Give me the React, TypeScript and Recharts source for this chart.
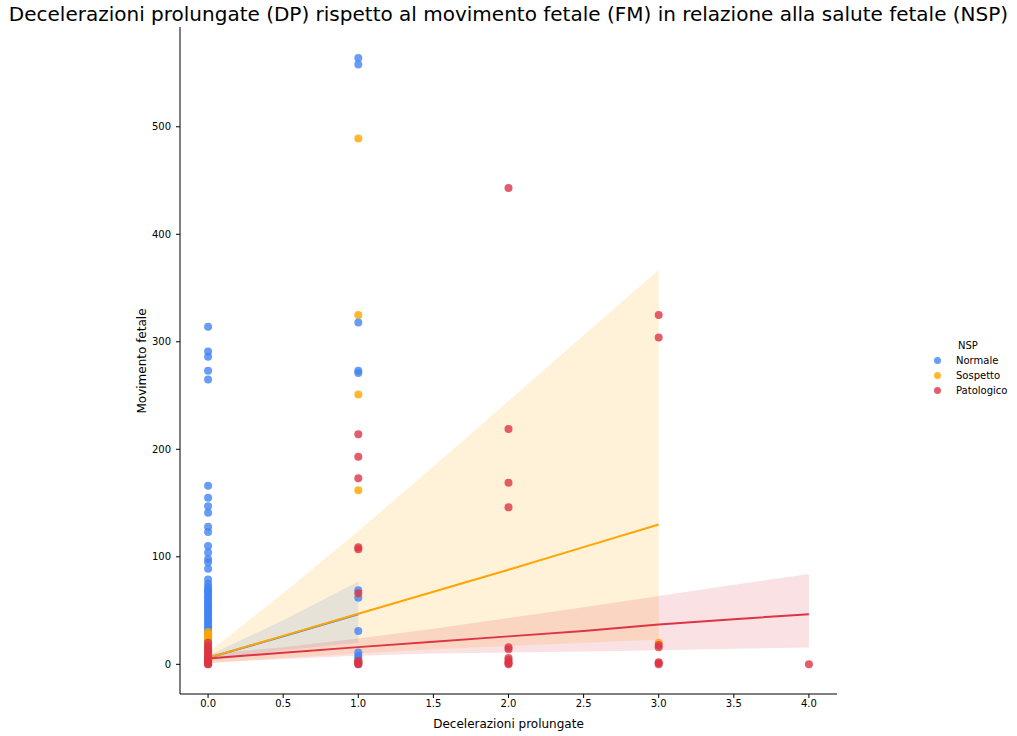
import type { FC } from 'react';
import {
  ComposedChart,
  Scatter,
  Line,
  Area,
  XAxis,
  YAxis,
  Label,
} from 'recharts';

const FONT = '"DejaVu Sans", Verdana, sans-serif';

const COLORS = {
  Normale: '#4285F4',
  Sospetto: '#FFA500',
  Patologico: '#DC3545',
};

const xTicks = [0, 0.5, 1, 1.5, 2, 2.5, 3, 3.5, 4];
const yTicks = [0, 100, 200, 300, 400, 500];

// scatter points: FM values grouped by DP value
const normale0 = [
  314, 291, 286, 273, 265, 166, 155, 147, 141, 128, 123, 110, 104, 98, 95, 89,
  79, 75, 72, 70, 68, 67, 65, 63, 62, 60, 58, 57, 55, 53, 52, 50, 48, 47, 45,
  43, 42, 40, 38, 36, 35, 33, 31, 29, 27, 24, 21, 18, 14, 10, 6, 3, 1, 0,
];
const normale1 = [564, 558, 318, 273, 271, 69, 62, 31, 11, 8, 6, 4, 2, 0];

const sospetto0 = [30, 28, 27, 25, 23, 20, 16, 12, 8, 5, 2, 0];
const sospetto1 = [489, 325, 251, 162, 2];
const sospetto3 = [20];

const patologico0 = [20, 17, 15, 13, 11, 9, 7, 5, 4, 3, 2, 1, 0];
const patologico1 = [214, 193, 173, 109, 107, 66, 3, 2, 1, 0];
const patologico2 = [443, 219, 169, 146, 16, 14, 6, 4, 2, 1, 0];
const patologico3 = [325, 304, 18, 16, 2, 1, 0];
const patologico4 = [0];

// regression fits and confidence bands, read at each x grid value
const fitX = [0, 0.5, 1, 1.5, 2, 2.5, 3, 3.5, 4];
const normaleFit = [6, 26, 46.5];
const normaleLow = [3, 13, 20];
const normaleHigh = [8, 41, 77];
const sospettoFit = [6, 26.5, 47, 67.5, 88, 109, 130];
const sospettoLow = [1, 6, 10, 14, 17, 20, 23];
const sospettoHigh = [11, 66, 124, 184, 245, 306, 367];
const patologicoFit = [5.5, 10.7, 16, 21, 26, 31, 37, 42, 46.5];
const patologicoLow = [1.5, 5, 8, 10, 11, 12, 13, 14.5, 15.7];
const patologicoHigh = [9.5, 16, 24, 33, 43, 53, 63.5, 74, 84];

const toPoints = (x: number, ys: number[]) => ys.map((y) => ({ x, y }));

const normalePts = [...toPoints(0, normale0), ...toPoints(1, normale1)];
const sospettoPts = [
  ...toPoints(0, sospetto0),
  ...toPoints(1, sospetto1),
  ...toPoints(3, sospetto3),
];
const patologicoPts = [
  ...toPoints(0, patologico0),
  ...toPoints(1, patologico1),
  ...toPoints(2, patologico2),
  ...toPoints(3, patologico3),
  ...toPoints(4, patologico4),
];

const fitData = fitX.map((x, i) => ({
  x,
  nFit: normaleFit[i],
  nBand: i < normaleFit.length ? [normaleLow[i], normaleHigh[i]] : undefined,
  sFit: sospettoFit[i],
  sBand: i < sospettoFit.length ? [sospettoLow[i], sospettoHigh[i]] : undefined,
  pFit: patologicoFit[i],
  pBand: [patologicoLow[i], patologicoHigh[i]],
}));

const dot = (color: string) => (props: any) =>
  props.cx == null ? <g /> : (
    <circle cx={props.cx} cy={props.cy} r={4} fill={color} fillOpacity={0.8} />
  );

const LegendBox = () => (
  <div
    style={{
      position: 'absolute',
      left: 929,
      top: 338,
      width: 88,
      fontFamily: FONT,
      fontSize: 10,
      color: '#000',
      lineHeight: '15px',
    }}
  >
    <div style={{ paddingLeft: 29, height: 15 }}>NSP</div>
    {Object.entries(COLORS).map(([name, c]) => (
      <div key={name} style={{ display: 'flex', alignItems: 'center', height: 15 }}>
        <span
          style={{
            display: 'inline-block',
            width: 7,
            height: 7,
            borderRadius: '50%',
            background: c,
            opacity: 0.8,
            marginLeft: 5,
            marginRight: 15,
          }}
        />
        {name}
      </div>
    ))}
  </div>
);

const tickStyle = { fontSize: 10, fill: '#000', fontFamily: FONT };

const App: FC = () => {
  return (
    <div
      style={{
        position: 'absolute',
        left: 0,
        top: 0,
        width: 1017,
        height: 736,
        background: '#fff',
        fontFamily: FONT,
      }}
    >
      <div
        style={{
          position: 'absolute',
          left: 0,
          top: 2,
          width: 1017,
          textAlign: 'center',
          fontSize: 20,
          color: '#000',
          whiteSpace: 'nowrap',
        }}
      >
        Decelerazioni prolungate (DP) rispetto al movimento fetale (FM) in relazione alla salute fetale (NSP)
      </div>
      <ComposedChart
        width={1017}
        height={736}
        data={fitData}
        margin={{ top: 27, right: 180, bottom: 0, left: 0 }}
      >
        <XAxis
          dataKey="x"
          type="number"
          domain={[-0.187, 4.187]}
          ticks={xTicks}
          tickFormatter={(v) => v.toFixed(1)}
          allowDataOverflow
          height={42}
          tick={tickStyle}
          tickSize={4}
          tickMargin={2}
          axisLine={{ stroke: '#000', strokeWidth: 1 }}
          tickLine={{ stroke: '#000' }}
        >
          <Label
            value="Decelerazioni prolungate"
            position="insideBottom"
            offset={8}
            style={{ fontSize: 12, fill: '#000', fontFamily: FONT }}
          />
        </XAxis>
        <YAxis
          type="number"
          domain={[-27.6, 592.8]}
          ticks={yTicks}
          allowDataOverflow
          width={180}
          tick={tickStyle}
          tickSize={4}
          tickMargin={5}
          axisLine={{ stroke: '#000', strokeWidth: 1 }}
          tickLine={{ stroke: '#000' }}
        >
          <Label
            content={() => (
              <text
                x={142}
                y={361}
                transform="rotate(-90 142 361)"
                textAnchor="middle"
                dominantBaseline="central"
                fontSize={12}
                fontFamily={FONT}
                fill="#000"
              >
                Movimento fetale
              </text>
            )}
          />
        </YAxis>

        <Scatter name="Normale" data={normalePts} dataKey="y" shape={dot(COLORS.Normale)} isAnimationActive={false} />
        <Area dataKey="nBand" type="linear" stroke="none" fill={COLORS.Normale} fillOpacity={0.15} isAnimationActive={false} />
        <Line dataKey="nFit" type="linear" stroke={COLORS.Normale} strokeWidth={2} dot={false} activeDot={false} isAnimationActive={false} />

        <Scatter name="Sospetto" data={sospettoPts} dataKey="y" shape={dot(COLORS.Sospetto)} isAnimationActive={false} />
        <Area dataKey="sBand" type="linear" stroke="none" fill={COLORS.Sospetto} fillOpacity={0.15} isAnimationActive={false} />
        <Line dataKey="sFit" type="linear" stroke={COLORS.Sospetto} strokeWidth={2} dot={false} activeDot={false} isAnimationActive={false} />

        <Scatter name="Patologico" data={patologicoPts} dataKey="y" shape={dot(COLORS.Patologico)} isAnimationActive={false} />
        <Area dataKey="pBand" type="linear" stroke="none" fill={COLORS.Patologico} fillOpacity={0.15} isAnimationActive={false} />
        <Line dataKey="pFit" type="linear" stroke={COLORS.Patologico} strokeWidth={2} dot={false} activeDot={false} isAnimationActive={false} />
      </ComposedChart>
      <LegendBox />
    </div>
  );
};

export default App;
